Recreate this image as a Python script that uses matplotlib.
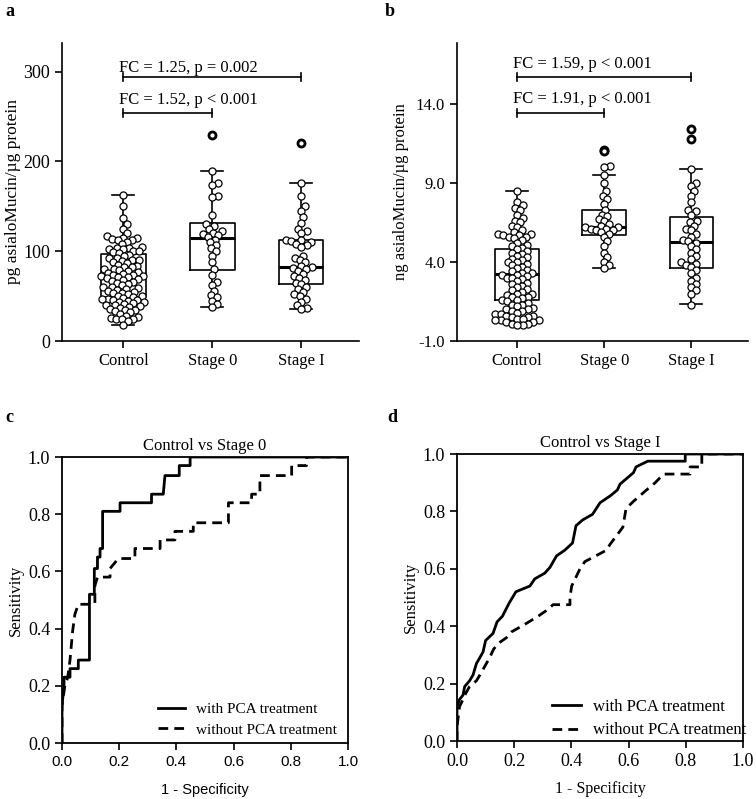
import numpy as np
import matplotlib
matplotlib.use('Agg')
import matplotlib.pyplot as plt

plt.rcParams['font.family'] = ['Liberation Serif', 'DejaVu Serif']

groups = ['Control', 'Stage 0', 'Stage I']

# panel a: pg asialoMucin / ug protein
a_ctrl = [163, 150, 137, 130, 125, 120, 117, 115, 115, 114, 113, 112, 110, 108, 105, 104, 104,
          103, 102, 100, 100, 99, 98, 96, 95, 93, 92, 90, 90, 89, 88, 87, 85, 84, 83, 82, 80, 80,
          79, 78, 77, 76, 75, 74, 73, 72, 72, 71, 71, 70, 69, 68, 67, 66, 65, 64, 62, 60, 60, 59,
          58, 57, 56, 55, 54, 53, 52, 50, 50, 49, 48, 47, 47, 46, 46, 45, 44, 43, 42, 41, 40, 40,
          39, 38, 37, 36, 35, 34, 33, 32, 30, 28, 27, 26, 25, 25, 24, 22, 18]
a_st0 = [189, 176, 174, 162, 160, 140, 130, 128, 125, 122, 120, 119, 118, 116, 113, 110, 107,
         104, 100, 95, 88, 80, 74, 66, 62, 56, 51, 49, 45, 41, 38]
a_st1 = [176, 162, 150, 145, 138, 132, 125, 122, 120, 113, 112, 111, 110, 108, 107, 105, 95, 93,
         90, 88, 84, 82, 81, 80, 78, 75, 72, 70, 68, 65, 63, 60, 58, 55, 52, 50, 47, 44, 40, 37, 36]
a_outliers = [[], [230], [221]]
a_q1 = [49, 79, 64]
a_med = [72, 115, 83]
a_q3 = [97, 132, 113]
a_lo = [18, 38, 36]
a_hi = [163, 189, 176]

# panel b: ng asialoMucin / ug protein
b_ctrl = [8.5, 7.8, 7.6, 7.4, 7.3, 7.0, 6.8, 6.6, 6.5, 6.3, 6.2, 6.0, 5.9, 5.8, 5.8, 5.7, 5.7,
          5.6, 5.6, 5.5, 5.4, 5.2, 5.1, 5.0, 4.9, 4.8, 4.7, 4.6, 4.5, 4.4, 4.3, 4.2, 4.1, 4.0, 4.0,
          3.9, 3.8, 3.7, 3.6, 3.5, 3.4, 3.3, 3.3, 3.2, 3.2, 3.1, 3.0, 3.0, 2.9, 2.8, 2.7, 2.6, 2.5,
          2.4, 2.3, 2.2, 2.1, 2.0, 2.0, 1.9, 1.8, 1.8, 1.7, 1.6, 1.6, 1.5, 1.4, 1.3, 1.3, 1.2, 1.1,
          1.0, 1.0, 0.9, 0.9, 0.8, 0.7, 0.7, 0.6, 0.6, 0.5, 0.5, 0.4, 0.4, 0.3, 0.3, 0.3, 0.2, 0.2,
          0.1, 0.1, 0.0, 0.0]
b_st0 = [10.1, 10.0, 9.5, 9.0, 8.5, 8.2, 8.0, 7.7, 7.3, 7.0, 6.9, 6.7, 6.6, 6.4, 6.3, 6.2, 6.2,
         6.1, 6.1, 6.0, 6.0, 5.9, 5.8, 5.6, 5.3, 5.0, 4.6, 4.3, 4.0, 3.8, 3.6]
b_st1 = [9.9, 9.0, 8.8, 8.5, 8.2, 7.8, 7.3, 7.2, 7.0, 6.6, 6.5, 6.3, 6.1, 6.0, 5.8, 5.6, 5.4,
         5.3, 5.2, 5.0, 4.8, 4.6, 4.4, 4.2, 4.0, 3.9, 3.8, 3.7, 3.5, 3.3, 3.0, 2.8, 2.6, 2.4, 2.2,
         2.0, 1.3]
b_outliers = [[], [11.1, 11.0], [12.4, 11.8]]
b_q1 = [1.6, 5.7, 3.64]
b_med = [3.24, 6.2, 5.25]
b_q3 = [4.8, 7.3, 6.83]
b_lo = [0.0, 3.6, 1.34]
b_hi = [8.5, 9.5, 9.87]

# ROC curves (vertices of step curves)
c_fpr_with = [0, 0, 0.007, 0.007, 0.028, 0.028, 0.057, 0.057, 0.096, 0.096, 0.113, 0.113, 0.124,
              0.124, 0.133, 0.133, 0.142, 0.142, 0.203, 0.203, 0.313, 0.313, 0.354, 0.36, 0.41,
              0.41, 0.448, 0.448, 1.0]
c_tpr_with = [0, 0.13, 0.2, 0.23, 0.23, 0.26, 0.26, 0.29, 0.29, 0.52, 0.52, 0.61, 0.61, 0.65,
              0.65, 0.68, 0.68, 0.81, 0.81, 0.84, 0.84, 0.87, 0.87, 0.935, 0.935, 0.97, 0.97,
              1.0, 1.0]
c_fpr_without = [0, 0, 0.01, 0.02, 0.028, 0.037, 0.045, 0.057, 0.115, 0.115, 0.124, 0.168, 0.168,
                 0.197, 0.255, 0.255, 0.343, 0.343, 0.395, 0.395, 0.459, 0.459, 0.582, 0.582,
                 0.663, 0.663, 0.692, 0.692, 0.803, 0.803, 0.855, 0.855, 1.0]
c_tpr_without = [0, 0.13, 0.2, 0.23, 0.29, 0.39, 0.45, 0.485, 0.485, 0.55, 0.58, 0.58, 0.61,
                 0.645, 0.645, 0.68, 0.68, 0.71, 0.71, 0.74, 0.74, 0.77, 0.77, 0.84, 0.84, 0.87,
                 0.87, 0.935, 0.935, 0.97, 0.97, 1.0, 1.0]
d_fpr_with = [0, 0, 0.009, 0.021, 0.027, 0.044, 0.056, 0.068, 0.091, 0.1, 0.126, 0.14, 0.159,
              0.182, 0.206, 0.255, 0.272, 0.307, 0.325, 0.348, 0.377, 0.404, 0.416, 0.439, 0.474,
              0.5, 0.537, 0.561, 0.57, 0.617, 0.626, 0.667, 0.798, 0.798, 1.0]
d_tpr_with = [0, 0.12, 0.145, 0.16, 0.19, 0.21, 0.23, 0.27, 0.31, 0.35, 0.375, 0.415, 0.435,
              0.48, 0.52, 0.54, 0.565, 0.585, 0.605, 0.645, 0.665, 0.69, 0.75, 0.77, 0.79, 0.83,
              0.855, 0.875, 0.895, 0.935, 0.955, 0.975, 0.975, 1.0, 1.0]
d_fpr_without = [0, 0, 0.009, 0.021, 0.03, 0.044, 0.068, 0.08, 0.114, 0.128, 0.144, 0.173, 0.19,
                 0.208, 0.243, 0.284, 0.313, 0.336, 0.395, 0.395, 0.401, 0.43, 0.447, 0.523,
                 0.535, 0.58, 0.591, 0.617, 0.64, 0.669, 0.693, 0.722, 0.815, 0.815, 0.856,
                 0.856, 1.0]
d_tpr_without = [0, 0.05, 0.12, 0.145, 0.165, 0.19, 0.21, 0.23, 0.29, 0.32, 0.34, 0.36, 0.38,
                 0.39, 0.41, 0.435, 0.455, 0.475, 0.475, 0.5, 0.54, 0.6, 0.625, 0.665, 0.685,
                 0.745, 0.81, 0.835, 0.855, 0.88, 0.9, 0.93, 0.93, 0.955, 0.955, 1.0, 1.0]

W, H = 756, 799
fig = plt.figure(figsize=(W / 100, H / 100), dpi=100)


def swarm_x(ax, xc, vals, dpx=5.6):
    # simple beeswarm in pixel space (slight overlap allowed, like the original)
    ys = [ax.transData.transform((xc, v))[1] for v in vals]
    x0 = ax.transData.transform((xc, 0))[0]
    px_per_x = ax.transData.transform((xc + 1, 0))[0] - x0
    order = np.argsort(ys)
    placed = []
    offs = np.zeros(len(vals))
    for i in order:
        y = ys[i]
        cands = [0.0]
        for (px, py) in placed:
            dy = abs(py - y)
            if dy < dpx:
                dx = np.sqrt(dpx ** 2 - dy ** 2)
                cands += [px + dx, px - dx]
        cands.sort(key=abs)
        for cx in cands:
            ok = all((cx - px) ** 2 + (y - py) ** 2 >= dpx ** 2 - 1e-6 for (px, py) in placed)
            if ok:
                break
        placed.append((cx, y))
        offs[i] = cx
    return xc + offs / px_per_x


def box_panel(rect, data, outl, q1, med, q3, lo, hi, ylim, yticks, yticklabels, ylabel,
              brackets, ytick_fs, ylab_fs, ylab_pad):
    ax = fig.add_axes(rect)
    ax.set_xlim(-0.69, 2.65)
    ax.set_ylim(*ylim)
    stats = []
    for i in range(3):
        stats.append(dict(med=med[i], q1=q1[i], q3=q3[i], whislo=lo[i], whishi=hi[i],
                          fliers=[]))
    ax.bxp(stats, positions=[0, 1, 2], widths=0.5, showfliers=False,
           boxprops=dict(color='black', lw=1.2),
           whiskerprops=dict(color='black', lw=1.2),
           capprops=dict(color='black', lw=1.2),
           medianprops=dict(color='black', lw=2.2), zorder=2)
    for i, vals in enumerate(data):
        xs = swarm_x(ax, i, vals)
        ax.scatter(xs, vals, s=26, facecolor='white', edgecolor='black', lw=0.9, zorder=3)
        if outl[i]:
            ax.scatter([i] * len(outl[i]), outl[i], s=26, facecolor='white',
                       edgecolor='black', lw=2.0, zorder=3)
    for sp in ['top', 'right']:
        ax.spines[sp].set_visible(False)
    for sp in ['left', 'bottom']:
        ax.spines[sp].set_linewidth(1.2)
    ax.set_xticks([0, 1, 2])
    ax.set_xticklabels(groups, fontsize=12)
    ax.set_yticks(yticks)
    ax.set_yticklabels(yticklabels, fontsize=ytick_fs)
    ax.tick_params(direction='out', length=5, width=1.2)
    ax.set_ylabel(ylabel, fontsize=ylab_fs, labelpad=ylab_pad)
    tick_h = (ylim[1] - ylim[0]) * 0.013
    for x2, yb, yt, txt in brackets:
        ax.plot([0, x2], [yb, yb], color='black', lw=1.2)
        ax.plot([0, 0], [yb - tick_h, yb + tick_h], color='black', lw=1.2)
        ax.plot([x2, x2], [yb - tick_h, yb + tick_h], color='black', lw=1.2)
        ax.text(-0.05, yt, txt, fontsize=12, ha='left', va='center')
    return ax


box_panel([62 / W, 1 - 341 / H, (359 - 62) / W, (341 - 43) / H],
          [a_ctrl, a_st0, a_st1], a_outliers, a_q1, a_med, a_q3, a_lo, a_hi,
          (0, 332), [0, 100, 200, 300], ['0', '100', '200', '300'],
          'pg asialoMucin/µg protein',
          [(2, 294, 304, 'FC = 1.25, p = 0.002'), (1, 254, 268, 'FC = 1.52, p < 0.001')],
          13, 12.5, 2)

box_panel([457 / W, 1 - 341 / H, (748 - 457) / W, (341 - 43) / H],
          [b_ctrl, b_st0, b_st1], b_outliers, b_q1, b_med, b_q3, b_lo, b_hi,
          (-1, 17.86), [-1, 4, 9, 14], ['-1.0', '4.0', '9.0', '14.0'],
          'ng asialoMucin/µg protein',
          [(2, 15.69, 16.55, 'FC = 1.59, p < 0.001'), (1, 13.41, 14.3, 'FC = 1.91, p < 0.001')],
          12, 12, 5)


def roc_panel(rect, fw, tw, fo, to, title, sans_x, leg_x, leg_y, leg_fs):
    ax = fig.add_axes(rect)
    ax.plot(fw, tw, color='black', lw=2.0, label='with PCA treatment', zorder=3)
    ax.plot(fo, to, color='black', lw=2.0, ls=(0, (3.5, 2.2)), label='without PCA treatment',
            zorder=2)
    ax.set_xlim(0, 1)
    ax.set_ylim(0, 1)
    ticks = [0, 0.2, 0.4, 0.6, 0.8, 1.0]
    labs = ['0.0', '0.2', '0.4', '0.6', '0.8', '1.0']
    ax.set_xticks(ticks)
    ax.set_yticks(ticks)
    ax.set_yticklabels(labs, fontsize=13)
    if sans_x:
        ax.set_xticklabels(labs, fontsize=11, family='Liberation Sans')
        ax.set_xlabel('1 - Specificity', fontsize=10.5, family='Liberation Sans', labelpad=10)
    else:
        ax.set_xticklabels(labs, fontsize=13)
        ax.set_xlabel('1 - Specificity', fontsize=11.5, labelpad=8)
    ax.set_ylabel('Sensitivity', fontsize=12, labelpad=3)
    ax.set_title(title, fontsize=12, pad=5)
    for sp in ax.spines.values():
        sp.set_linewidth(1.3)
    ax.tick_params(direction='out', length=5, width=1.2)
    ax.legend(loc='lower left', bbox_to_anchor=(leg_x, leg_y), frameon=False, fontsize=leg_fs,
              handlelength=1.75, handletextpad=0.7, borderpad=0, labelspacing=0.45)
    return ax


roc_panel([62 / W, 1 - 743 / H, (348 - 62) / W, (743 - 457) / H],
          c_fpr_with, c_tpr_with, c_fpr_without, c_tpr_without, 'Control vs Stage 0', True,
          0.31, -0.005, 11)
roc_panel([457 / W, 1 - 741 / H, (743 - 457) / W, (741 - 454) / H],
          d_fpr_with, d_tpr_with, d_fpr_without, d_tpr_without, 'Control vs Stage I', False,
          0.302, -0.02, 12)

for lab, x, y in [('a', 5, 12), ('b', 385, 12), ('c', 5, 417), ('d', 387, 417)]:
    fig.text(x / W, 1 - y / H, lab, fontsize=13, fontweight='bold', ha='left', va='center')

fig.savefig('out.png', dpi=100)
